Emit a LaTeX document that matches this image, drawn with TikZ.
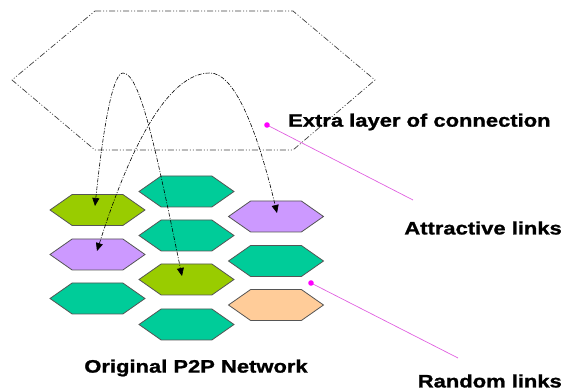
\documentclass[tikz,border=0pt]{standalone}
\usepackage{fontspec}
\setmainfont{Liberation Sans}
\newfontfamily\heavyfont{Liberation Sans Bold}[FakeStretch=1.22, FakeBold=1.2]
\usetikzlibrary{shapes.symbols,arrows.meta}
\definecolor{hgreen}{HTML}{99CC00}
\definecolor{hteal}{HTML}{00CC99}
\definecolor{hpurple}{HTML}{CC99FF}
\definecolor{horange}{HTML}{FFCC99}
\definecolor{hline}{HTML}{555555}
\definecolor{pinkline}{HTML}{E060E0}
\definecolor{pinkdot}{HTML}{FF00FF}
\tikzset{
  hexnode/.style={signal, signal to=east and west, signal pointer angle=70,
    minimum width=95pt, minimum height=31pt, inner sep=0pt, draw=hline, line width=0.8pt},
  layer/.style={draw=black!75, line width=0.7pt,
    dash pattern=on 6pt off 2pt on 1pt off 2pt on 1pt off 2pt},
  attract/.style={draw=black, line width=0.6pt,
    dash pattern=on 4pt off 1.5pt on 1pt off 1.5pt,
    {Triangle[length=8pt,width=7pt]}-{Triangle[length=8pt,width=7pt]}},
  callout/.style={draw=pinkline, line width=0.7pt},
  dot/.style={fill=pinkdot, draw=none},
  lbl/.style={font=\heavyfont\fontsize{18}{20}\selectfont, inner sep=0pt}
}
\begin{document}
\begin{tikzpicture}[x=1pt,y=-1pt]
\useasboundingbox (0,0) rectangle (563,390);
% extra layer
\draw[layer] (95,11) -- (293,11) -- (375,80) -- (293,150) -- (95,150) -- (12,80) -- cycle;
% original network
\node[hexnode, fill=hgreen]  (a1) at (97.5,210) {};
\node[hexnode, fill=hpurple] (a2) at (97.5,254.5) {};
\node[hexnode, fill=hteal]   (a3) at (97.5,298.5) {};
\node[hexnode, fill=hteal]   (b1) at (186.5,191.5) {};
\node[hexnode, fill=hteal]   (b2) at (186.5,235.5) {};
\node[hexnode, fill=hgreen]  (b3) at (186.5,279.5) {};
\node[hexnode, fill=hteal]   (b4) at (186.5,324.5) {};
\node[hexnode, fill=hpurple] (c1) at (276,216.5) {};
\node[hexnode, fill=hteal]   (c2) at (276,261) {};
\node[hexnode, fill=horange] (c3) at (276,305) {};
% attractive links
\coordinate (p1) at (123,73);
\coordinate (p2) at (210,73);
\draw[attract] ([xshift=-2.5pt,yshift=4pt]a1.center) .. controls (104.3,117.3) and (113.7,73) .. (p1)
   .. controls (140,73) and (156,150) .. ([xshift=-4.5pt,yshift=3.5pt]b3.center);
\draw[attract] ([xshift=-0.5pt,yshift=3.5pt]a2.center) .. controls (134.7,132.3) and (172.3,73) .. (p2)
   .. controls (232.3,73) and (254.7,119.7) .. ([xshift=1pt,yshift=3.5pt]c1.center);
% labels
\node[lbl, anchor=west] (t1) at (288,122) {Extra layer of connection};
\node[lbl, anchor=east] (t2) at (562,228) {Attractive links};
\node[lbl, anchor=east] (t3) at (562,381) {Random links};
\node[lbl] (t4) at (196,368) {Original P2P Network};
% callouts
\coordinate (d1) at (267,125);
\coordinate (e1) at (413,200);
\coordinate (d2) at (311,283);
\coordinate (e2) at (458,358);
\draw[callout] (d1) -- (e1);
\draw[callout] (d2) -- (e2);
\fill[dot] (d1) circle (2.8pt);
\fill[dot] (d2) circle (2.8pt);
\end{tikzpicture}
\end{document}
